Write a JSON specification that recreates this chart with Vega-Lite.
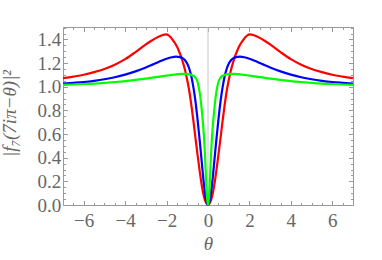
{
"$schema":"https://vega.github.io/schema/vega-lite/v6.json",
"autosize":{"type":"none"},
"padding":{"left":63,"top":27,"right":29,"bottom":55},
"width":290,"height":178,
"background":"white",
"config":{"view":{"stroke":"#999999","strokeWidth":1},"axis":{"grid":false,"domain":false,"tickColor":"#999999","tickWidth":1,"labelFont":"Liberation Serif","labelFontSize":19,"labelColor":"#666666","titleFont":"Liberation Serif","titleFontSize":19,"titleColor":"#666666","titleFontWeight":"normal","labelFlush":false,"labelOverlap":false}},
"data":{"values":[
{"t":-7,"v":1.073,"s":"red"},{"t":-6.5,"v":1.086,"s":"red"},{"t":-6,"v":1.101,"s":"red"},{"t":-5.5,"v":1.123,"s":"red"},{"t":-5,"v":1.15,"s":"red"},{"t":-4.5,"v":1.186,"s":"red"},{"t":-4,"v":1.233,"s":"red"},{"t":-3.5,"v":1.293,"s":"red"},{"t":-3,"v":1.358,"s":"red"},{"t":-2.75,"v":1.387,"s":"red"},{"t":-2.5,"v":1.413,"s":"red"},{"t":-2.25,"v":1.433,"s":"red"},{"t":-2.1,"v":1.441,"s":"red"},{"t":-2.0,"v":1.442,"s":"red"},{"t":-1.9,"v":1.434,"s":"red"},{"t":-1.8,"v":1.418,"s":"red"},{"t":-1.7,"v":1.395,"s":"red"},{"t":-1.6,"v":1.37,"s":"red"},{"t":-1.5,"v":1.34,"s":"red"},{"t":-1.4,"v":1.3,"s":"red"},{"t":-1.3,"v":1.255,"s":"red"},{"t":-1.2,"v":1.2,"s":"red"},{"t":-1.1,"v":1.135,"s":"red"},{"t":-1.0,"v":1.055,"s":"red"},{"t":-0.9,"v":0.96,"s":"red"},{"t":-0.8,"v":0.84,"s":"red"},{"t":-0.7,"v":0.705,"s":"red"},{"t":-0.6,"v":0.56,"s":"red"},{"t":-0.5,"v":0.42,"s":"red"},{"t":-0.4,"v":0.285,"s":"red"},{"t":-0.3,"v":0.165,"s":"red"},{"t":-0.2,"v":0.075,"s":"red"},{"t":-0.1,"v":0.02,"s":"red"},
{"t":0,"v":0,"s":"red"},
{"t":0.1,"v":0.02,"s":"red"},{"t":0.2,"v":0.075,"s":"red"},{"t":0.3,"v":0.165,"s":"red"},{"t":0.4,"v":0.285,"s":"red"},{"t":0.5,"v":0.42,"s":"red"},{"t":0.6,"v":0.56,"s":"red"},{"t":0.7,"v":0.705,"s":"red"},{"t":0.8,"v":0.84,"s":"red"},{"t":0.9,"v":0.96,"s":"red"},{"t":1.0,"v":1.055,"s":"red"},{"t":1.1,"v":1.135,"s":"red"},{"t":1.2,"v":1.2,"s":"red"},{"t":1.3,"v":1.255,"s":"red"},{"t":1.4,"v":1.3,"s":"red"},{"t":1.5,"v":1.34,"s":"red"},{"t":1.6,"v":1.37,"s":"red"},{"t":1.7,"v":1.395,"s":"red"},{"t":1.8,"v":1.418,"s":"red"},{"t":1.9,"v":1.434,"s":"red"},{"t":2.0,"v":1.442,"s":"red"},{"t":2.1,"v":1.441,"s":"red"},{"t":2.25,"v":1.433,"s":"red"},{"t":2.5,"v":1.413,"s":"red"},{"t":2.75,"v":1.387,"s":"red"},{"t":3,"v":1.358,"s":"red"},{"t":3.5,"v":1.293,"s":"red"},{"t":4,"v":1.233,"s":"red"},{"t":4.5,"v":1.186,"s":"red"},{"t":5,"v":1.15,"s":"red"},{"t":5.5,"v":1.123,"s":"red"},{"t":6,"v":1.101,"s":"red"},{"t":6.5,"v":1.086,"s":"red"},{"t":7,"v":1.073,"s":"red"},
{"t":-7,"v":1.027,"s":"blue"},{"t":-6.5,"v":1.033,"s":"blue"},{"t":-6,"v":1.04,"s":"blue"},{"t":-5.5,"v":1.05,"s":"blue"},{"t":-5,"v":1.063,"s":"blue"},{"t":-4.5,"v":1.08,"s":"blue"},{"t":-4,"v":1.102,"s":"blue"},{"t":-3.5,"v":1.13,"s":"blue"},{"t":-3,"v":1.163,"s":"blue"},{"t":-2.75,"v":1.181,"s":"blue"},{"t":-2.5,"v":1.2,"s":"blue"},{"t":-2.25,"v":1.219,"s":"blue"},{"t":-2,"v":1.236,"s":"blue"},{"t":-1.75,"v":1.249,"s":"blue"},{"t":-1.55,"v":1.254,"s":"blue"},{"t":-1.35,"v":1.25,"s":"blue"},{"t":-1.2,"v":1.238,"s":"blue"},{"t":-1.1,"v":1.222,"s":"blue"},{"t":-1.0,"v":1.195,"s":"blue"},{"t":-0.9,"v":1.15,"s":"blue"},{"t":-0.8,"v":1.085,"s":"blue"},{"t":-0.7,"v":0.99,"s":"blue"},{"t":-0.6,"v":0.87,"s":"blue"},{"t":-0.5,"v":0.715,"s":"blue"},{"t":-0.4,"v":0.545,"s":"blue"},{"t":-0.3,"v":0.36,"s":"blue"},{"t":-0.2,"v":0.18,"s":"blue"},{"t":-0.1,"v":0.05,"s":"blue"},
{"t":0,"v":0,"s":"blue"},
{"t":0.1,"v":0.05,"s":"blue"},{"t":0.2,"v":0.18,"s":"blue"},{"t":0.3,"v":0.36,"s":"blue"},{"t":0.4,"v":0.545,"s":"blue"},{"t":0.5,"v":0.715,"s":"blue"},{"t":0.6,"v":0.87,"s":"blue"},{"t":0.7,"v":0.99,"s":"blue"},{"t":0.8,"v":1.085,"s":"blue"},{"t":0.9,"v":1.15,"s":"blue"},{"t":1.0,"v":1.195,"s":"blue"},{"t":1.1,"v":1.222,"s":"blue"},{"t":1.2,"v":1.238,"s":"blue"},{"t":1.35,"v":1.25,"s":"blue"},{"t":1.55,"v":1.254,"s":"blue"},{"t":1.75,"v":1.249,"s":"blue"},{"t":2,"v":1.236,"s":"blue"},{"t":2.25,"v":1.219,"s":"blue"},{"t":2.5,"v":1.2,"s":"blue"},{"t":2.75,"v":1.181,"s":"blue"},{"t":3,"v":1.163,"s":"blue"},{"t":3.5,"v":1.13,"s":"blue"},{"t":4,"v":1.102,"s":"blue"},{"t":4.5,"v":1.08,"s":"blue"},{"t":5,"v":1.063,"s":"blue"},{"t":5.5,"v":1.05,"s":"blue"},{"t":6,"v":1.04,"s":"blue"},{"t":6.5,"v":1.033,"s":"blue"},{"t":7,"v":1.027,"s":"blue"},
{"t":-7,"v":1.016,"s":"green"},{"t":-6.5,"v":1.019,"s":"green"},{"t":-6,"v":1.023,"s":"green"},{"t":-5.5,"v":1.027,"s":"green"},{"t":-5,"v":1.033,"s":"green"},{"t":-4.5,"v":1.04,"s":"green"},{"t":-4,"v":1.048,"s":"green"},{"t":-3.5,"v":1.058,"s":"green"},{"t":-3,"v":1.069,"s":"green"},{"t":-2.75,"v":1.075,"s":"green"},{"t":-2.4,"v":1.084,"s":"green"},{"t":-2,"v":1.094,"s":"green"},{"t":-1.6,"v":1.103,"s":"green"},{"t":-1.3,"v":1.108,"s":"green"},{"t":-1.15,"v":1.109,"s":"green"},{"t":-1.0,"v":1.107,"s":"green"},{"t":-0.85,"v":1.102,"s":"green"},{"t":-0.7,"v":1.092,"s":"green"},{"t":-0.6,"v":1.075,"s":"green"},{"t":-0.5,"v":1.038,"s":"green"},{"t":-0.45,"v":1.0,"s":"green"},{"t":-0.4,"v":0.95,"s":"green"},{"t":-0.35,"v":0.885,"s":"green"},{"t":-0.3,"v":0.8,"s":"green"},{"t":-0.25,"v":0.705,"s":"green"},{"t":-0.2,"v":0.59,"s":"green"},{"t":-0.15,"v":0.44,"s":"green"},{"t":-0.1,"v":0.24,"s":"green"},{"t":-0.05,"v":0.07,"s":"green"},
{"t":0,"v":0,"s":"green"},
{"t":0.05,"v":0.07,"s":"green"},{"t":0.1,"v":0.24,"s":"green"},{"t":0.15,"v":0.44,"s":"green"},{"t":0.2,"v":0.59,"s":"green"},{"t":0.25,"v":0.705,"s":"green"},{"t":0.3,"v":0.8,"s":"green"},{"t":0.35,"v":0.885,"s":"green"},{"t":0.4,"v":0.95,"s":"green"},{"t":0.45,"v":1.0,"s":"green"},{"t":0.5,"v":1.038,"s":"green"},{"t":0.6,"v":1.075,"s":"green"},{"t":0.7,"v":1.092,"s":"green"},{"t":0.85,"v":1.102,"s":"green"},{"t":1.0,"v":1.107,"s":"green"},{"t":1.15,"v":1.109,"s":"green"},{"t":1.3,"v":1.108,"s":"green"},{"t":1.6,"v":1.103,"s":"green"},{"t":2,"v":1.094,"s":"green"},{"t":2.4,"v":1.084,"s":"green"},{"t":2.75,"v":1.075,"s":"green"},{"t":3,"v":1.069,"s":"green"},{"t":3.5,"v":1.058,"s":"green"},{"t":4,"v":1.048,"s":"green"},{"t":4.5,"v":1.04,"s":"green"},{"t":5,"v":1.033,"s":"green"},{"t":5.5,"v":1.027,"s":"green"},{"t":6,"v":1.023,"s":"green"},{"t":6.5,"v":1.019,"s":"green"},{"t":7,"v":1.016,"s":"green"}
]},
"layer":[
{"data":{"values":[{"t":0}]},
 "mark":{"type":"rule","color":"#c8c8c8","strokeWidth":1},
 "encoding":{"x":{"field":"t","type":"quantitative","scale":{"domain":[-7,7],"nice":false,"zero":false},"axis":null}}},
{"mark":{"type":"line","strokeWidth":2.2,"interpolate":"monotone"},
 "encoding":{
  "x":{"field":"t","type":"quantitative","scale":{"domain":[-7,7],"nice":false,"zero":false},
   "axis":{"orient":"bottom","values":[-6,-4,-2,0,2,4,6],"tickSize":-4.5,"labelPadding":11,"title":"θ","titleFontStyle":"italic","titlePadding":4}},
  "y":{"field":"v","type":"quantitative","scale":{"domain":[0,1.505],"nice":false,"zero":true},
   "axis":{"orient":"left","values":[0,0.2,0.4,0.6,0.8,1.0,1.2,1.4],"format":".1f","tickSize":-4.5,"labelPadding":6.8,"title":"|f₇(7iπ−θ)|²","titleFontStyle":"italic","titlePadding":17,"titleY":86}},
  "color":{"field":"s","type":"nominal","scale":{"domain":["red","blue","green"],"range":["#ff0000","#0000ff","#00ff00"]},"legend":null}}},
{"mark":{"type":"point","opacity":0},
 "encoding":{
  "x":{"field":"t","type":"quantitative","scale":{"domain":[-7,7],"nice":false,"zero":false},
   "axis":{"orient":"top","values":[-6,-4,-2,0,2,4,6],"tickSize":-4.5,"labels":false,"title":null}},
  "y":{"field":"v","type":"quantitative","scale":{"domain":[0,1.505],"nice":false,"zero":true},
   "axis":{"orient":"right","values":[0,0.2,0.4,0.6,0.8,1.0,1.2,1.4],"tickSize":-4.5,"labels":false,"title":null}}}},
{"mark":{"type":"point","opacity":0},
 "encoding":{
  "x":{"field":"t","type":"quantitative","scale":{"domain":[-7,7],"nice":false,"zero":false},
   "axis":{"orient":"bottom","values":[-6.5,-5.5,-5,-4.5,-3.5,-3,-2.5,-1.5,-1,-0.5,0.5,1,1.5,2.5,3,3.5,4.5,5,5.5,6.5],"tickSize":-2.5,"labels":false,"title":null}},
  "y":{"field":"v","type":"quantitative","scale":{"domain":[0,1.505],"nice":false,"zero":true},
   "axis":{"orient":"left","values":[0.05,0.1,0.15,0.25,0.3,0.35,0.45,0.5,0.55,0.65,0.7,0.75,0.85,0.9,0.95,1.05,1.1,1.15,1.25,1.3,1.35,1.45,1.5],"tickSize":-2.5,"labels":false,"title":null}}}},
{"mark":{"type":"point","opacity":0},
 "encoding":{
  "x":{"field":"t","type":"quantitative","scale":{"domain":[-7,7],"nice":false,"zero":false},
   "axis":{"orient":"top","values":[-6.5,-5.5,-5,-4.5,-3.5,-3,-2.5,-1.5,-1,-0.5,0.5,1,1.5,2.5,3,3.5,4.5,5,5.5,6.5],"tickSize":-2.5,"labels":false,"title":null}},
  "y":{"field":"v","type":"quantitative","scale":{"domain":[0,1.505],"nice":false,"zero":true},
   "axis":{"orient":"right","values":[0.05,0.1,0.15,0.25,0.3,0.35,0.45,0.5,0.55,0.65,0.7,0.75,0.85,0.9,0.95,1.05,1.1,1.15,1.25,1.3,1.35,1.45,1.5],"tickSize":-2.5,"labels":false,"title":null}}}}
],
"resolve":{"axis":{"x":"independent","y":"independent"}}
}
